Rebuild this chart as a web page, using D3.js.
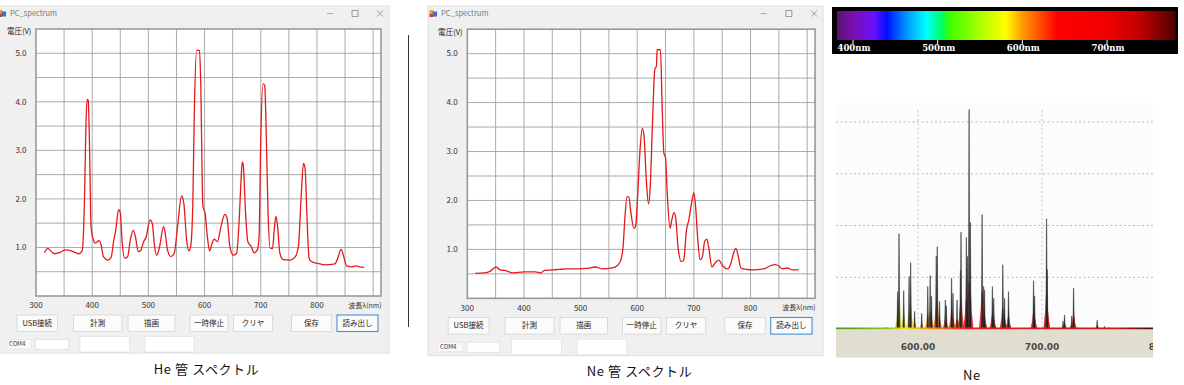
<!DOCTYPE html>
<html>
<head>
<meta charset="utf-8">
<script src="https://cdn.jsdelivr.net/npm/d3@7"></script>
<style>
body { margin: 0; background: #fff; }
svg { display: block; }
</style>
</head>
<body>
<script>
// He tube spectrum (wavelength nm, voltage V)
const heWavelength = [315, 321, 327, 333, 343, 353, 365, 376, 382, 386, 389, 391, 393, 395, 398, 402, 406, 412, 416, 420,
  428, 434, 438, 442, 447, 450, 453, 458, 463, 468, 473, 477, 482, 486, 491, 496, 503, 507, 511, 515,
  520, 527, 530, 534, 540, 546, 552, 559, 563, 568, 572, 575, 579, 582, 586, 591, 593, 597, 601, 605,
  609, 613, 617, 623, 629, 636, 640, 645, 651, 657, 661, 665, 667, 669, 673, 677, 683, 688, 694, 697,
  700, 704, 707, 710, 713, 717, 721, 724, 727, 730, 734, 740, 752, 761, 767, 772, 776, 779, 782, 786,
  790, 802, 814, 832, 837, 843, 847, 853, 862, 868, 876, 884];
const heVoltage = [0.89, 0.98, 0.92, 0.87, 0.90, 0.95, 0.92, 0.87, 0.93, 1.85, 3.58, 4.05, 4.03, 3.23, 1.43, 1.16, 1.09, 1.14, 1.05, 0.81,
  0.74, 0.81, 1.12, 1.36, 1.78, 1.72, 1.16, 0.78, 0.81, 1.16, 1.35, 1.22, 0.91, 0.93, 1.10, 1.22, 1.57, 1.49, 1.02, 0.84,
  1.02, 1.43, 1.29, 0.95, 0.81, 0.88, 1.43, 2.06, 1.92, 1.16, 0.93, 1.00, 1.85, 3.92, 5.06, 5.06, 4.48, 1.85, 1.70, 1.22,
  0.93, 1.07, 1.17, 1.12, 1.42, 1.68, 1.61, 1.02, 0.84, 0.88, 1.43, 2.40, 2.76, 2.68, 1.71, 1.12, 1.02, 0.89, 0.95, 1.22,
  3.23, 4.37, 4.34, 3.23, 1.71, 0.98, 0.98, 1.36, 1.64, 1.43, 0.88, 0.75, 0.74, 0.80, 1.02, 2.06, 2.73, 2.61, 1.71, 0.78,
  0.71, 0.67, 0.64, 0.66, 0.78, 0.96, 0.84, 0.62, 0.60, 0.62, 0.60, 0.59];

// Ne tube spectrum
const neWavelength = [314, 330, 340, 351, 358, 366, 381, 400, 420, 430, 436, 450, 462, 476, 497, 510, 527, 538, 556, 565,
  571, 575, 578, 582, 585, 589, 594, 597, 601, 605, 609, 612, 616, 620, 623, 627, 631, 634, 635, 641,
  644, 647, 650, 653, 658, 661, 665, 668, 672, 678, 682, 687, 691, 696, 700, 703, 707, 711, 715, 719,
  723, 726, 732, 738, 744, 751, 760, 765, 770, 774, 778, 783, 792, 804, 823, 838, 844, 850, 856, 865,
  874, 885];
const neVoltage = [0.51, 0.52, 0.55, 0.64, 0.58, 0.57, 0.52, 0.54, 0.54, 0.52, 0.57, 0.58, 0.59, 0.60, 0.60, 0.61, 0.64, 0.60, 0.62, 0.67,
  0.78, 1.05, 1.60, 2.08, 2.07, 1.74, 1.43, 1.47, 2.15, 3.04, 3.47, 3.32, 2.42, 1.93, 2.29, 3.59, 4.68, 4.75, 5.08, 5.08,
  3.93, 2.97, 2.87, 2.15, 1.43, 1.60, 1.75, 1.64, 1.05, 0.75, 0.78, 1.40, 1.60, 1.95, 2.16, 1.88, 1.19, 0.79, 0.85, 1.16,
  1.21, 1.05, 0.64, 0.73, 0.78, 0.66, 0.60, 0.70, 0.92, 1.02, 0.88, 0.62, 0.59, 0.58, 0.60, 0.68, 0.69, 0.66, 0.60, 0.62,
  0.58, 0.58];

// axis ticks of the app screenshots
const xTickValues = [300, 400, 500, 600, 700, 800];
const yTickValues = [1, 2, 3, 4, 5];
const buttonLabels = ["USB接続", "計測", "描画", "一時停止", "クリヤ", "保存", "読み出し"];

// visible spectrum colour bar
const barStopsNm = [381, 400, 425, 440, 465, 487, 505, 515, 560, 580, 600, 620, 641, 700, 740, 781];
const barStopsColor = ["#5b1070", "#7a10b0", "#6a10ff", "#0010ff", "#00a0ff", "#00ffff", "#00ff60", "#40ff00",
  "#c8ff00", "#ffff00", "#ff9c00", "#ff5000", "#ff0000", "#f00000", "#c00000", "#500000"];
const barTicks = [400, 500, 600, 700];

// reference Ne emission lines (nm, relative height)
const neLineNm = [574.5, 583.6, 584.7, 588.5, 592.8, 594.1, 597.3, 603.0, 607.9, 609.8, 610.9, 614.7, 615.5, 617.4, 622.0,
  622.8, 627.1, 628.2, 631.5, 634.2, 634.7, 639.0, 639.8, 641.2, 642.2, 651.7, 653.0, 653.6, 660.0, 661.1,
  668.4, 669.8, 673.0, 693.2, 694.0, 703.7, 704.2, 717.0, 718.2, 724.0, 725.5, 744.5, 750.4, 754.4];
const neLineHeight = [0.03, 0.72, 1.84, 0.74, 1.01, 1.28, 0.34, 0.30, 0.82, 1.03, 0.63, 1.41, 1.59, 0.53, 0.56,
  0.45, 0.98, 0.69, 0.56, 1.13, 1.87, 1.77, 1.40, 4.24, 2.06, 2.21, 0.82, 0.75, 0.82, 0.59,
  1.24, 0.59, 0.72, 0.93, 0.64, 2.13, 1.15, 0.15, 0.27, 0.25, 0.79, 0.17, 0.05, 0.03];
const refTicks = [600, 700, 800];
const refGrid = [1, 2, 3, 4];
const lineColorNm = [530, 575, 590, 605, 625, 640, 760, 790];
const lineColor = ["#3a9a20", "#8cc020", "#f0e020", "#f0a020", "#f06020", "#e82020", "#c81818", "#401010"];

const uiFont = "'Noto Sans CJK JP', 'Noto Sans', sans-serif";

const svg = d3.select("body").append("svg")
    .attr("width", 1184)
    .attr("height", 385);

function drawWindow(ox, oy, k, wave, volt) {
    // one PC_spectrum window, laid out in its own coordinates then scaled
    const g = svg.append("g").attr("transform", `translate(${ox},${oy}) scale(${k})`);

    g.append("rect")
        .attr("width", 392).attr("height", 347)
        .attr("fill", "#f0f0f0").attr("stroke", "#dadada").attr("stroke-width", 0.8);

    // title bar
    g.append("rect").attr("x", 1.5).attr("y", 4).attr("width", 4).attr("height", 4).attr("fill", "#e8a030");
    g.append("rect").attr("x", 4.5).attr("y", 5.5).attr("width", 4.5).attr("height", 5).attr("fill", "#3a6fd0");
    g.append("rect").attr("x", 1.5).attr("y", 8).attr("width", 3.5).attr("height", 3).attr("fill", "#d04020");
    g.append("text")
        .attr("x", 13).attr("y", 7.3).attr("dy", "0.35em")
        .attr("font-family", uiFont).attr("font-size", 7.5).attr("fill", "#7a7a7a")
        .text("PC_spectrum");
    g.append("line").attr("x1", 330).attr("x2", 336).attr("y1", 7.5).attr("y2", 7.5)
        .attr("stroke", "#999").attr("stroke-width", 0.8);
    g.append("rect").attr("x", 355).attr("y", 4.5).attr("width", 6).attr("height", 6)
        .attr("fill", "none").attr("stroke", "#888").attr("stroke-width", 0.8);
    g.append("path").attr("d", "M380,4.5L386,10.5M386,4.5L380,10.5")
        .attr("stroke", "#888").attr("stroke-width", 0.8);

    const x = d3.scaleLinear().domain([300, 914]).range([39, 384]);
    const y = d3.scaleLinear().domain([0, 5.5]).range([290, 23]);

    g.append("rect")
        .attr("x", x(300)).attr("y", y(5.5))
        .attr("width", x(914) - x(300)).attr("height", y(0) - y(5.5))
        .attr("fill", "#fff");

    g.append("g").selectAll("line").data(d3.range(350, 901, 50)).join("line")
        .attr("x1", d => x(d)).attr("x2", d => x(d))
        .attr("y1", y(5.5)).attr("y2", y(0))
        .attr("stroke", "#a2a2a2").attr("stroke-width", 0.9);
    g.append("g").selectAll("line").data(d3.range(0.5, 5.01, 0.5)).join("line")
        .attr("x1", x(300)).attr("x2", x(914))
        .attr("y1", d => y(d)).attr("y2", d => y(d))
        .attr("stroke", "#a2a2a2").attr("stroke-width", 0.9);

    g.append("rect")
        .attr("x", x(300)).attr("y", y(5.5))
        .attr("width", x(914) - x(300)).attr("height", y(0) - y(5.5))
        .attr("fill", "none").attr("stroke", "#9a9a9a").attr("stroke-width", 1.6);

    const line = d3.line().x(d => x(d[0])).y(d => y(d[1])).curve(d3.curveMonotoneX);
    g.append("path")
        .datum(d3.zip(wave, volt))
        .attr("d", line)
        .attr("fill", "none")
        .attr("stroke", "#e41a1c")
        .attr("stroke-width", 1.3);

    // axis labels
    g.append("text")
        .attr("x", 10).attr("y", 25.7).attr("dy", "0.35em")
        .attr("font-family", uiFont).attr("font-size", 7.5).attr("fill", "#222")
        .text("電圧(V)");
    g.append("g").selectAll("text").data(yTickValues).join("text")
        .attr("x", 29.5).attr("y", d => y(d)).attr("dy", "0.35em")
        .attr("text-anchor", "end")
        .attr("font-family", uiFont).attr("font-size", 8).attr("fill", "#333")
        .text(d => d3.format(".1f")(d));
    g.append("g").selectAll("text").data(xTickValues).join("text")
        .attr("x", d => x(d)).attr("y", 299.5).attr("dy", "0.35em")
        .attr("text-anchor", "middle")
        .attr("font-family", uiFont).attr("font-size", 8).attr("fill", "#333")
        .text(d => d);
    g.append("text")
        .attr("x", 368).attr("y", 299.5).attr("dy", "0.35em")
        .attr("text-anchor", "middle")
        .attr("font-family", uiFont).attr("font-size", 7).attr("fill", "#333")
        .text("波長λ(nm)");

    // buttons
    const btnX = [20, 76.5, 131, 193, 236.5, 294.5, 340];
    const btnW = [40.5, 48.5, 47, 38, 39, 40, 41];
    const btn = g.append("g").selectAll("g").data(buttonLabels).join("g");
    btn.append("rect")
        .attr("x", (d, i) => btnX[i]).attr("y", 309)
        .attr("width", (d, i) => btnW[i]).attr("height", 16.5)
        .attr("fill", "#fbfbfb")
        .attr("stroke", (d, i) => i === 6 ? "#4a90d0" : "#d4d4d4")
        .attr("stroke-width", (d, i) => i === 6 ? 1.1 : 0.8);
    btn.append("text")
        .attr("x", (d, i) => btnX[i] + btnW[i] / 2).attr("y", 317.3).attr("dy", "0.35em")
        .attr("text-anchor", "middle")
        .attr("font-family", uiFont).attr("font-size", 7.5).attr("fill", "#222")
        .text(d => d);

    // bottom row: port label and empty boxes
    g.append("rect").attr("x", 9.7).attr("y", 333.5).attr("width", 25).attr("height", 9.5)
        .attr("fill", "#fafafa").attr("stroke", "#e0e0e0").attr("stroke-width", 0.6);
    g.append("text").attr("x", 12).attr("y", 338.3).attr("dy", "0.35em")
        .attr("font-family", uiFont).attr("font-size", 6).attr("fill", "#333").text("COM4");
    g.append("rect").attr("x", 38.7).attr("y", 333.5).attr("width", 32.6).attr("height", 10)
        .attr("fill", "#fff").attr("stroke", "#d8d8d8").attr("stroke-width", 0.6);
    g.append("rect").attr("x", 83).attr("y", 330.5).attr("width", 49.3).attr("height", 15.5)
        .attr("fill", "#fff").attr("stroke", "#dedede").attr("stroke-width", 0.6);
    g.append("rect").attr("x", 148).attr("y", 330.5).attr("width", 49).attr("height", 15.5)
        .attr("fill", "#fff").attr("stroke", "#dedede").attr("stroke-width", 0.6);
}

drawWindow(-3, 6, 1, heWavelength, heVoltage);
drawWindow(428, 6, 1.008, neWavelength, neVoltage);

// separator
svg.append("line").attr("x1", 408.5).attr("x2", 408.5).attr("y1", 35).attr("y2", 327)
    .attr("stroke", "#333").attr("stroke-width", 1);

// captions
const captions = [["He 管 スペクトル", 206.5, 369.5], ["Ne 管 スペクトル", 639.5, 371], ["Ne", 972, 375]];
svg.append("g").selectAll("text").data(captions).join("text")
    .attr("x", d => d[1]).attr("y", d => d[2]).attr("dy", "0.35em")
    .attr("text-anchor", "middle")
    .attr("font-family", uiFont).attr("font-size", 13).attr("letter-spacing", 0.6)
    .attr("fill", "#111")
    .text(d => d[0]);

// visible spectrum bar
const bx = d3.scaleLinear().domain([400, 700]).range([853, 1107]);
const defs = svg.append("defs");
const grad = defs.append("linearGradient").attr("id", "rainbow")
    .attr("gradientUnits", "userSpaceOnUse")
    .attr("x1", bx(381)).attr("x2", bx(781)).attr("y1", 0).attr("y2", 0);
grad.selectAll("stop").data(barStopsNm).join("stop")
    .attr("offset", d => (d - 381) / 400)
    .attr("stop-color", (d, i) => barStopsColor[i]);

svg.append("rect").attr("x", 832).attr("y", 7).attr("width", 346).attr("height", 47).attr("fill", "#000");
svg.append("rect").attr("x", bx(381)).attr("y", 11).attr("width", bx(781) - bx(381)).attr("height", 29)
    .attr("fill", "url(#rainbow)");
svg.append("g").selectAll("line").data(barTicks).join("line")
    .attr("x1", d => bx(d)).attr("x2", d => bx(d)).attr("y1", 40).attr("y2", 44)
    .attr("stroke", "#fff").attr("stroke-width", 1);
svg.append("g").selectAll("text").data(barTicks).join("text")
    .attr("x", d => bx(d) + 1).attr("y", 50.5)
    .attr("text-anchor", "middle")
    .attr("font-family", "'DejaVu Serif', serif").attr("font-weight", "bold")
    .attr("font-size", 8.5).attr("fill", "#fff")
    .text(d => d + "nm");

// reference Ne line spectrum
const rx = d3.scaleLinear().domain([600, 700]).range([918, 1042]);
const ry = d3.scaleLinear().domain([0, 4]).range([329, 122]);
const rc = d3.scaleLinear().domain(lineColorNm).range(lineColor).clamp(true);
const left = 836, right = 1153;

svg.append("rect").attr("x", left).attr("y", 103).attr("width", right - left).attr("height", ry(0) - 103)
    .attr("fill", "#fbfcfe");
svg.append("g").selectAll("line").data(refGrid).join("line")
    .attr("x1", left).attr("x2", right).attr("y1", d => ry(d)).attr("y2", d => ry(d))
    .attr("stroke", "#b8b8b8").attr("stroke-width", 1).attr("stroke-dasharray", "2,2.5");
svg.append("g").selectAll("line").data(refTicks.slice(0, 2)).join("line")
    .attr("x1", d => rx(d)).attr("x2", d => rx(d)).attr("y1", 110).attr("y2", ry(0))
    .attr("stroke", "#c4c4c4").attr("stroke-width", 1).attr("stroke-dasharray", "2,2.5");

const clip = defs.append("clipPath").attr("id", "refclip");
clip.append("rect").attr("x", left).attr("y", 100).attr("width", right - left).attr("height", 260);
const ref = svg.append("g").attr("clip-path", "url(#refclip)");

const peakArea = d3.area().x(d => rx(d[0])).y0(ry(0)).y1(d => ry(d[1]));
const peaks = d3.zip(neLineNm, neLineHeight);
// coloured feet under each line, then the dark line itself on top
ref.append("g").selectAll("path").data(peaks).join("path")
    .attr("d", d => {
        const fh = Math.min(d[1] * 0.32, 0.9);
        return peakArea([[d[0] - 2.6, 0], [d[0] - 1.2, fh * 0.5], [d[0] - 0.55, fh],
                         [d[0] + 0.55, fh], [d[0] + 1.2, fh * 0.5], [d[0] + 2.6, 0]]);
    })
    .attr("fill", d => rc(d[0]))
    .attr("opacity", 0.9);
ref.append("g").selectAll("path").data(peaks).join("path")
    .attr("d", d => peakArea([[d[0] - 0.6, 0], [d[0] - 0.35, d[1] * 0.45], [d[0] - 0.1, d[1]],
                              [d[0] + 0.1, d[1]], [d[0] + 0.35, d[1] * 0.45], [d[0] + 0.6, 0]]))
    .attr("fill", "#141414")
    .attr("stroke", "#3a3a3a")
    .attr("stroke-width", 0.5);

const baseGrad = defs.append("linearGradient").attr("id", "baseline")
    .attr("gradientUnits", "userSpaceOnUse")
    .attr("x1", rx(530)).attr("x2", rx(790)).attr("y1", 0).attr("y2", 0);
baseGrad.selectAll("stop").data(lineColorNm).join("stop")
    .attr("offset", d => (d - 530) / 260)
    .attr("stop-color", (d, i) => lineColor[i]);
ref.append("line").attr("x1", left).attr("x2", right).attr("y1", ry(0) - 0.5).attr("y2", ry(0) - 0.5)
    .attr("stroke", "url(#baseline)").attr("stroke-width", 2.2);

ref.append("rect").attr("x", left).attr("y", ry(0) + 0.6).attr("width", right - left).attr("height", 28)
    .attr("fill", "#e1ded0");
ref.append("g").selectAll("text").data(refTicks).join("text")
    .attr("x", d => rx(d)).attr("y", 347).attr("dy", "0.35em")
    .attr("text-anchor", "middle")
    .attr("font-family", "'DejaVu Sans', sans-serif").attr("font-weight", "bold")
    .attr("font-size", 9).attr("fill", "#4a4a4a")
    .text(d => d3.format(".2f")(d));
</script>
</body>
</html>
